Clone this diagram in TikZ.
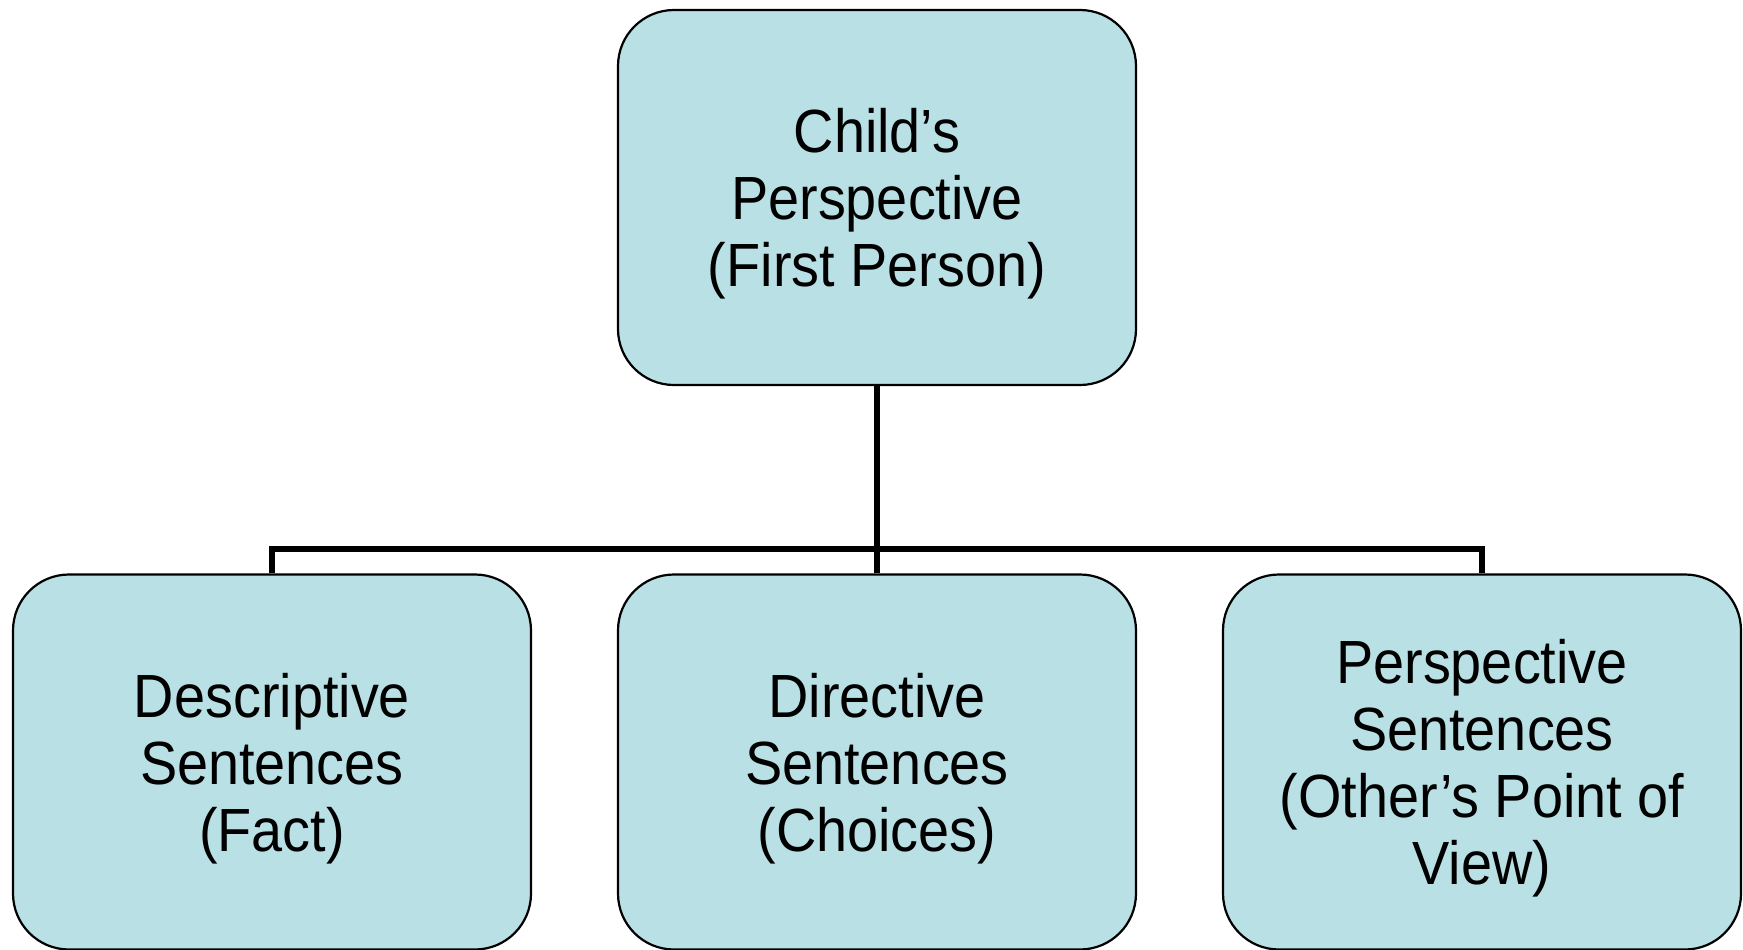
\documentclass[tikz,border=0pt]{standalone}
\usepackage{fontspec}
\setmainfont{Liberation Sans}[FakeStretch=0.915]
\usepackage{tikz}
\usetikzlibrary{positioning, calc}
\usepackage{xcolor}
\definecolor{boxfill}{RGB}{185,224,228}

\tikzset{
    sentbox/.style={rectangle, rounded corners=56pt, draw=black, line width=2.2pt, fill=boxfill,
        minimum width=518pt, minimum height=375pt, align=center, inner sep=0pt, text depth=0pt,
        font=\fontsize{61}{67}\selectfont},
    link/.style={draw=black, line width=5.5pt}
}

\begin{document}
\begin{tikzpicture}[x=1pt, y=-1pt]
        \useasboundingbox (0, 0) rectangle (1743, 950);

        \node[sentbox] (child) at (877, 197.5) {Child's\\Perspective\\(First Person)};

        \node[sentbox] (descr) at (272, 762) {Descriptive\\Sentences\\(Fact)};
        \node[sentbox] (direct) at (877, 762) {Directive\\Sentences\\(Choices)};
        \node[sentbox] (persp) at (1482, 762) {Perspective\\Sentences\\(Other's Point of\\View)};

        \coordinate (bus) at (877, 549);

        \draw[link] (child.south) -- (bus);
        \draw[link] (direct.north) -- (bus);
        \draw[link] (descr.north) -- (descr.north |- bus) -- (persp.north |- bus) -- (persp.north);

      \end{tikzpicture}
\end{document}
